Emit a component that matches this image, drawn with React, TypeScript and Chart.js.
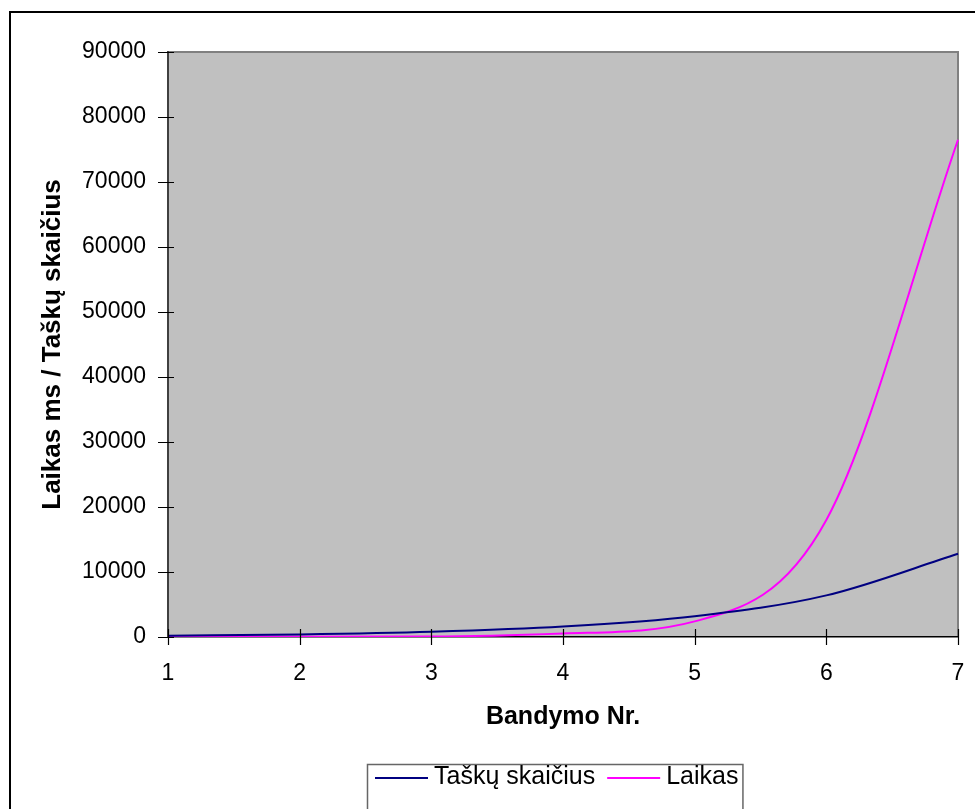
import React, { useEffect, useRef } from "react";
import { Chart, registerables } from "chart.js";

Chart.register(...registerables);

// ---- data ----
const trials = ["1", "2", "3", "4", "5", "6", "7"];
const pointCounts = [200, 400, 800, 1600, 3200, 6400, 12800];
const timesMs = [15, 30, 70, 550, 2400, 18000, 76500];
const seriesLabels = ["Taškų skaičius", "Laikas"];
const seriesColors = ["#000080", "#FF00FF"];
const yMin = 0;
const yMax = 90000;
const yStep = 10000;
const xTitle = "Bandymo Nr.";
const yTitle = "Laikas ms / Taškų skaičius";

// ---- layout / style constants ----
const W = 975;
const H = 809;
const FONT = "'Liberation Sans', Arial, Helvetica, sans-serif";

const framePlugin = {
  id: "frame",
  beforeDraw(chart: any) {
    const { ctx, chartArea: a } = chart;
    ctx.save();
    ctx.fillStyle = "#ffffff";
    ctx.fillRect(0, 0, chart.width, chart.height);
    // outer chart border (cropped on right/bottom)
    ctx.strokeStyle = "#000000";
    ctx.lineWidth = 2;
    ctx.beginPath();
    ctx.moveTo(10, chart.height + 2);
    ctx.lineTo(10, 12);
    ctx.lineTo(chart.width + 2, 12);
    ctx.stroke();
    // plot area
    ctx.fillStyle = "#C0C0C0";
    ctx.fillRect(a.left, a.top, a.right - a.left, a.bottom - a.top);
    ctx.strokeStyle = "#808080";
    ctx.lineWidth = 2;
    ctx.beginPath();
    ctx.moveTo(a.left, a.top);
    ctx.lineTo(a.right, a.top);
    ctx.lineTo(a.right, a.bottom);
    ctx.stroke();
    ctx.restore();
  },
  afterDraw(chart: any) {
    const { ctx } = chart;
    const ys = chart.scales.y;
    const xs = chart.scales.x;
    ctx.save();
    // crossing tick marks
    ctx.strokeStyle = "#000000";
    ctx.lineWidth = 1.2;
    ctx.beginPath();
    ys.ticks.forEach((t: any) => {
      const py = Math.round(ys.getPixelForValue(t.value)) + 0.5;
      ctx.moveTo(ys.right - 10, py);
      ctx.lineTo(ys.right + 6, py);
    });
    xs.ticks.forEach((_t: any, i: number) => {
      const px = Math.round(xs.getPixelForTick(i)) + 0.5;
      ctx.moveTo(px, xs.top - 8);
      ctx.lineTo(px, xs.top + 8);
    });
    ctx.stroke();

    // legend box
    const ds = chart.data.datasets;
    ctx.font = `25px ${FONT}`;
    const padL = 8;
    const sample = 53;
    const gapS = 6;
    const gapItem = 12;
    const padR = 4;
    const widths = ds.map((d: any) => ctx.measureText(d.label).width);
    let total = padL + padR;
    widths.forEach((w: number, i: number) => {
      total += sample + gapS + w + (i > 0 ? gapItem : 0);
    });
    const boxL = 367;
    const boxT = 764;
    ctx.fillStyle = "#ffffff";
    ctx.fillRect(boxL, boxT, total, chart.height - boxT + 5);
    ctx.strokeStyle = "#666666";
    ctx.lineWidth = 1.5;
    ctx.strokeRect(boxL + 0.5, boxT + 0.5, total, chart.height - boxT + 5);
    let x = boxL + padL;
    const cy = 777;
    ds.forEach((d: any, i: number) => {
      if (i > 0) x += gapItem;
      ctx.strokeStyle = d.borderColor;
      ctx.lineWidth = 2;
      ctx.beginPath();
      ctx.moveTo(x, cy + 1);
      ctx.lineTo(x + sample, cy + 1);
      ctx.stroke();
      x += sample + gapS;
      ctx.fillStyle = "#000000";
      ctx.textBaseline = "middle";
      ctx.textAlign = "left";
      ctx.fillText(d.label, x, cy);
      x += widths[i];
    });
    ctx.restore();
  },
};

export default function App() {
  const ref = useRef<HTMLCanvasElement | null>(null);

  useEffect(() => {
    if (!ref.current) return;
    Chart.defaults.font.family = FONT;
    const chart = new Chart(ref.current, {
      type: "line",
      data: {
        labels: trials,
        datasets: [
          {
            label: seriesLabels[0],
            data: pointCounts,
            borderColor: seriesColors[0],
            backgroundColor: seriesColors[0],
            borderWidth: 2,
            pointRadius: 0,
            cubicInterpolationMode: "monotone",
            fill: false,
          },
          {
            label: seriesLabels[1],
            data: timesMs,
            borderColor: seriesColors[1],
            backgroundColor: seriesColors[1],
            borderWidth: 2,
            pointRadius: 0,
            cubicInterpolationMode: "monotone",
            fill: false,
          },
        ],
      },
      options: {
        responsive: false,
        animation: false,
        devicePixelRatio: 1,
        layout: { padding: { left: 0, top: 52, right: 17, bottom: 0 } },
        plugins: {
          legend: { display: false },
          tooltip: { enabled: false },
        },
        scales: {
          x: {
            type: "category",
            offset: false,
            grid: { display: false, drawTicks: false },
            border: { display: true, color: "#000000", width: 1.5 },
            ticks: {
              color: "#000000",
              font: { size: 23 },
              padding: 23,
              maxRotation: 0,
              autoSkip: false,
            },
            title: {
              display: true,
              text: xTitle,
              color: "#000000",
              font: { size: 25, weight: "bold" },
              padding: { top: 0, bottom: 77 },
            },
            afterFit: (scale: any) => {
              scale.height = 172;
              scale.paddingLeft = 0;
              scale.paddingRight = 0;
            },
          },
          y: {
            type: "linear",
            min: yMin,
            max: yMax,
            grid: { display: false, drawTicks: false },
            border: { display: true, color: "#404040", width: 2 },
            ticks: {
              stepSize: yStep,
              color: "#000000",
              font: { size: 23 },
              padding: 22,
              callback: (v: any) => String(v),
            },
            title: {
              display: true,
              text: yTitle,
              color: "#000000",
              font: { size: 26, weight: "bold" },
              padding: { top: 37, bottom: 0 },
            },
            afterFit: (scale: any) => {
              scale.width = 168;
            },
          },
        },
      },
      plugins: [framePlugin],
    });
    return () => chart.destroy();
  }, []);

  return (
    <div style={{ position: "fixed", left: 0, top: 0, width: W, height: H, overflow: "hidden", background: "#fff" }}>
      <canvas ref={ref} width={W} height={H} style={{ display: "block", width: W, height: H }} />
    </div>
  );
}
